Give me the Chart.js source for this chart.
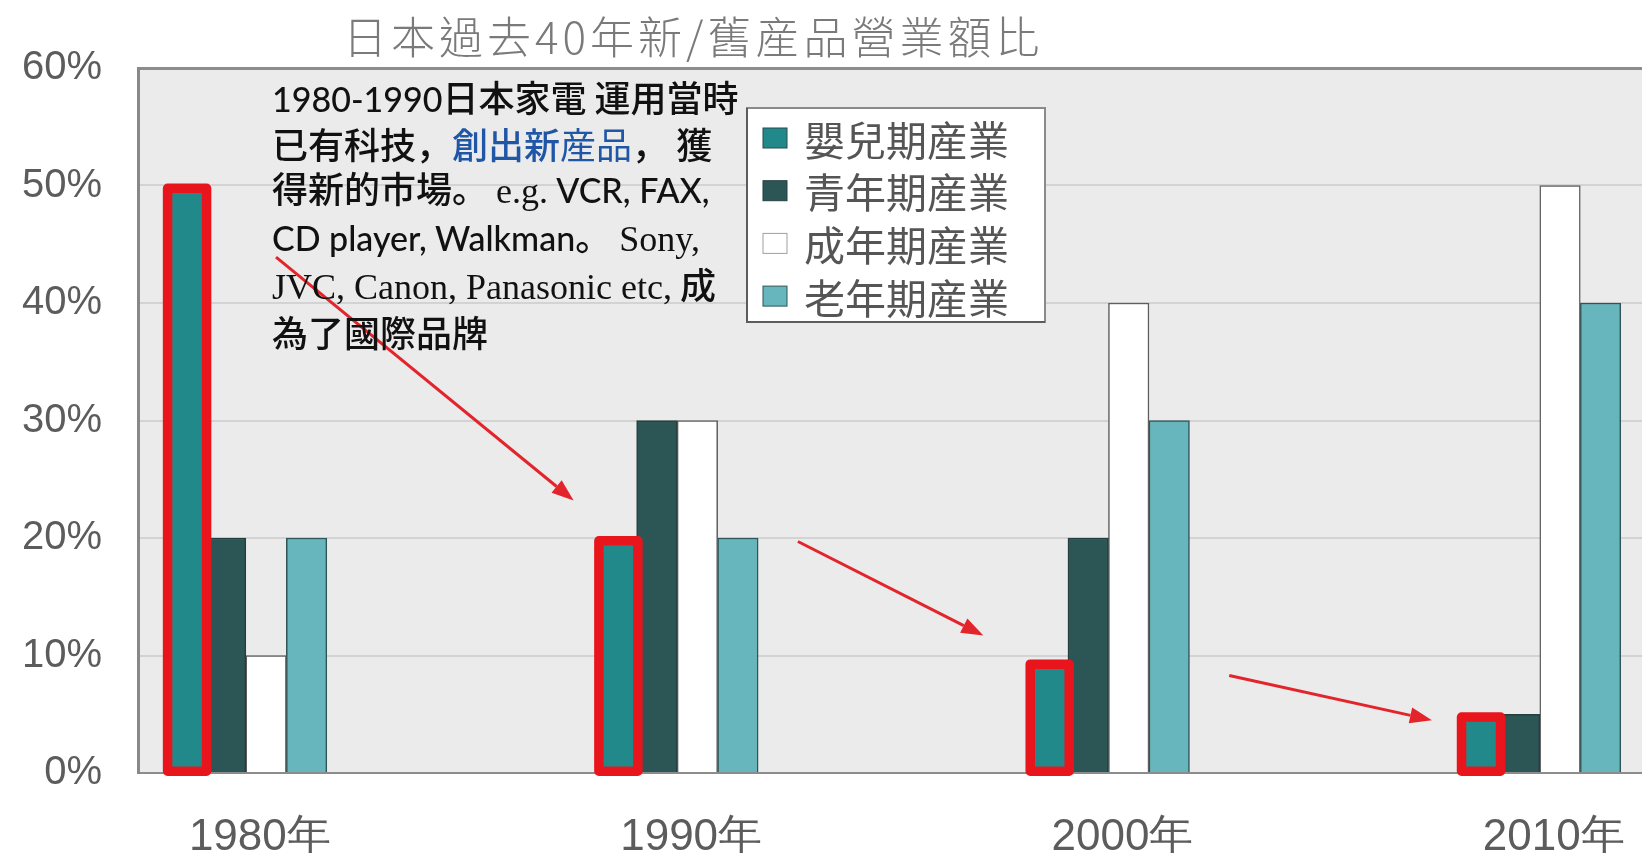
<!DOCTYPE html>
<html>
<head>
<meta charset="utf-8">
<title>日本過去40年新/舊産品營業額比</title>
<script src="https://cdn.jsdelivr.net/npm/chart.js@4.4.0/dist/chart.umd.min.js"></script>
<style>
  html, body { margin: 0; padding: 0; background: #fff; overflow: hidden; }
  #wrap { position: relative; width: 1642px; height: 853px; }
  #title {
    position: absolute; left: 343px; top: 13px;
    font: 300 44px "Noto Sans CJK TC", sans-serif; letter-spacing: 4px;
    line-height: 44px; color: #7a7a7a; white-space: nowrap;
  }
  #note {
    position: absolute; left: 272px; top: 74px;
    font: 500 36px "Noto Sans CJK JP", sans-serif;
    line-height: 44px; color: #111; white-space: nowrap;
  }
  #note .lat { font-family: Lato, sans-serif; font-size: 34px; }
  #note .ser { font-family: "Liberation Serif", serif; font-size: 36px; font-weight: 400; }
  #note .blue { color: #1f56a6; }
  #note .thin { font-weight: 400; }
</style>
</head>
<body>
<div id="wrap">
  <canvas id="myChart" width="1642" height="853"></canvas>
  <div id="title">日本過去40年新/舊産品營業額比</div>
  <div id="note"><span class="lat">1980-1990</span>日本家電 運用當時<br>已有科技，<span class="blue">創出新</span><span class="blue thin">産品</span>， 獲<br>得新的市場。 <span class="ser">e.g.</span> <span class="lat">VCR, FAX,</span><br><span class="lat">CD player, Walkman</span>。 <span class="ser">Sony,</span><br><span class="ser">JVC, Canon, Panasonic etc,</span> 成<br>為了國際品牌</div>
</div>

<script>
// share of sales by product stage, in %
const years = [1980, 1990, 2000, 2010];
const stageNames = ["嬰兒期産業", "青年期産業", "成年期産業", "老年期産業"];
const infant = [50, 20, 9.5, 5];
const youth = [20, 30, 20, 5];
const adult = [10, 30, 40, 50];
const senior = [20, 20, 30, 40];

const stageColors = ["#22898a", "#2c5555", "#ffffff", "#67b6bd"];
const stageBorders = ["#2a4a4b", "#263e3e", "#5e5e5e", "#2f5556"];

// x runs a little past 2010 so the last group sits near the edge
const xMin = 1977.5;
const xMax = 2012.37;
const yMax = 60;
const yStep = 10;

// arrows between the infant bars, in data units [year, %]
const arrows = [
  { from: [1980.7, 43.9], to: [1987.6, 23.2] },
  { from: [1992.8, 19.7], to: [1997.1, 11.7] },
  { from: [2002.8, 8.3], to: [2007.5, 4.5] },
];

const paper = {
  id: "paper",
  beforeDraw(chart) {
    const { ctx, chartArea: a } = chart;
    ctx.save();
    ctx.fillStyle = "#ebebeb";
    ctx.fillRect(a.left, a.top, a.right - a.left, a.bottom - a.top);
    ctx.restore();
  },
  afterDatasetsDraw(chart) {
    const ctx = chart.ctx;
    const xs = chart.scales.x;
    const ys = chart.scales.y;

    // red boxes round the infant bars
    ctx.save();
    ctx.strokeStyle = "#e8161c";
    ctx.lineWidth = 9.5;
    ctx.lineJoin = "round";
    chart.getDatasetMeta(0).data.forEach((bar) => {
      const p = bar.getProps(["x", "y", "base", "width"], true);
      const l = p.x - p.width / 2 - 2;
      const r = p.x + p.width / 2 + 6;
      const t = p.y - 2;
      const b = p.base + 4;
      ctx.strokeRect(l + 4.75, t + 4.75, r - l - 9.5, b - t - 9.5);
    });
    ctx.restore();

    // arrows
    ctx.save();
    ctx.strokeStyle = "#e3242b";
    ctx.fillStyle = "#e3242b";
    ctx.lineWidth = 3;
    arrows.forEach((a) => {
      const x0 = xs.getPixelForValue(a.from[0]);
      const y0 = ys.getPixelForValue(a.from[1]);
      const x1 = xs.getPixelForValue(a.to[0]);
      const y1 = ys.getPixelForValue(a.to[1]);
      const ang = Math.atan2(y1 - y0, x1 - x0);
      const head = 22;
      const half = 8;
      const bx = x1 - head * Math.cos(ang);
      const by = y1 - head * Math.sin(ang);
      ctx.beginPath();
      ctx.moveTo(x0, y0);
      ctx.lineTo(bx, by);
      ctx.stroke();
      ctx.beginPath();
      ctx.moveTo(x1, y1);
      ctx.lineTo(bx + half * Math.sin(ang), by - half * Math.cos(ang));
      ctx.lineTo(bx - half * Math.sin(ang), by + half * Math.cos(ang));
      ctx.closePath();
      ctx.fill();
    });
    ctx.restore();
  },
  afterDraw(chart) {
    // legend box inside the plot
    const ctx = chart.ctx;
    const left = 747, top = 108, w = 298, h = 214;
    ctx.save();
    ctx.fillStyle = "#ffffff";
    ctx.fillRect(left, top, w, h);
    ctx.strokeStyle = "#8a8a8a";
    ctx.lineWidth = 2;
    ctx.strokeRect(left, top, w, h);
    ctx.strokeStyle = "#5c5c5c";
    ctx.beginPath();
    ctx.moveTo(left, top);
    ctx.lineTo(left, top + h);
    ctx.lineTo(left + w, top + h);
    ctx.stroke();

    ctx.font = '41px "Noto Sans CJK TC"';
    ctx.textBaseline = "middle";
    chart.data.datasets.forEach((ds, i) => {
      const cy = 138 + i * 52.7;
      ctx.fillStyle = ds.backgroundColor;
      ctx.fillRect(763, cy - 10, 24, 20);
      ctx.strokeStyle = i === 2 ? "#a0a0a0" : ds.borderColor;
      ctx.lineWidth = 1;
      ctx.strokeRect(763, cy - 10, 24, 20);
      ctx.fillStyle = "#555555";
      ctx.fillText(ds.label, 804, cy + 2);
    });
    ctx.restore();
  },
};

const seriesData = [infant, youth, adult, senior];

new Chart("myChart", {
  type: "bar",
  data: {
    labels: years,
    datasets: seriesData.map((values, i) => ({
      label: stageNames[i],
      data: values,
      backgroundColor: stageColors[i],
      borderColor: stageBorders[i],
      borderWidth: 1.5,
    })),
  },
  options: {
    responsive: false,
    animation: false,
    layout: { padding: { top: 68, left: 0, right: 0, bottom: 0 } },
    datasets: { bar: { barThickness: 40.5, grouped: true } },
    plugins: {
      legend: { display: false },
      tooltip: { enabled: false },
    },
    scales: {
      x: {
        type: "linear",
        offset: false,
        min: xMin,
        max: xMax,
        afterBuildTicks: (s) => {
          s.ticks = years.map((v) => ({ value: v }));
        },
        afterFit: (s) => {
          s.height = 80;
          // plot runs right to the canvas edge
          s.paddingLeft = 0;
          s.paddingRight = 0;
        },
        grid: { display: false, drawTicks: false },
        border: { display: true, color: "#8c8c8c", width: 2 },
        ticks: {
          padding: 38,
          labelOffset: 14,
          maxRotation: 0,
          autoSkip: false,
          color: "#5c5c5c",
          font: { family: "Liberation Sans", size: 44 },
          callback: (v) => v + "年",
        },
      },
      y: {
        min: 0,
        max: yMax,
        afterFit: (s) => {
          s.width = 138;
        },
        grid: {
          drawTicks: false,
          color: (c) => (c.tick.value === yMax ? "#8c8c8c" : "#d3d3d3"),
          lineWidth: (c) => (c.tick.value === yMax ? 3 : 2),
        },
        border: { display: true, color: "#888888", width: 3 },
        ticks: {
          stepSize: yStep,
          padding: 36,
          color: "#5c5c5c",
          font: { family: "Liberation Sans", size: 40 },
          callback: (v) => v + "%",
        },
      },
    },
  },
  plugins: [paper],
});
</script>
</body>
</html>
